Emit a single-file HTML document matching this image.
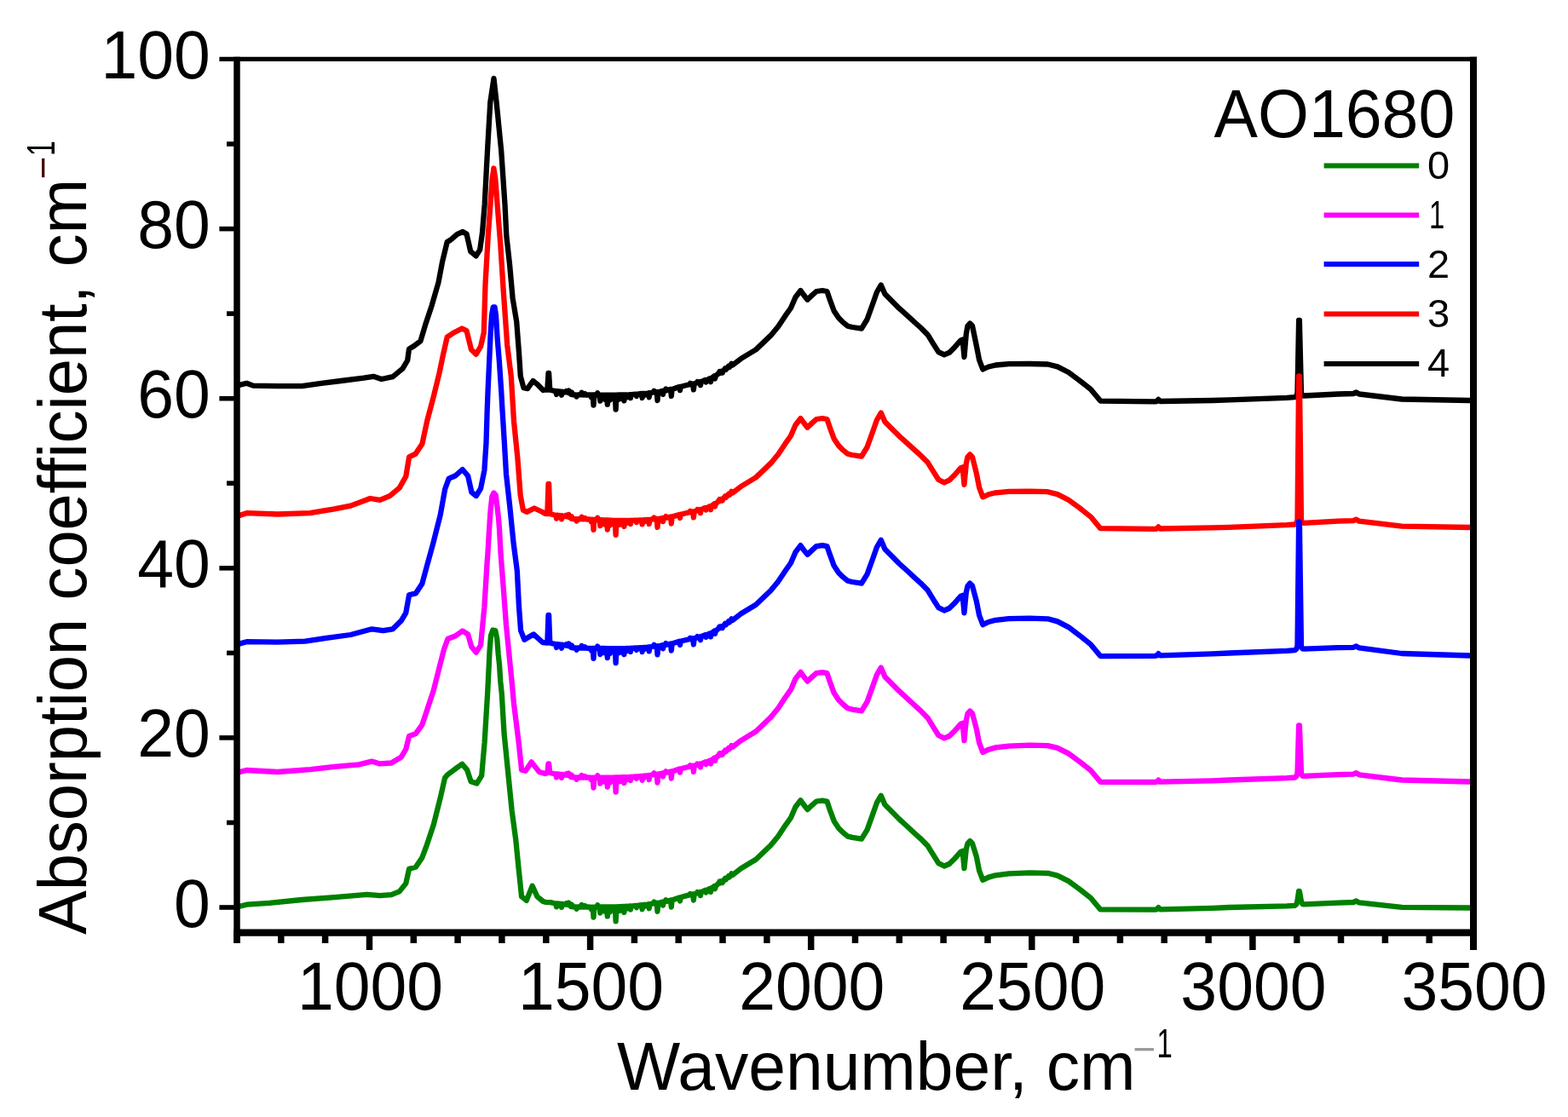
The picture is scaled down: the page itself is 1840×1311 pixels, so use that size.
<!DOCTYPE html>
<html><head><meta charset="utf-8"><title>Absorption spectra AO1680</title>
<style>html,body{margin:0;padding:0;background:#fff;}svg{display:block;}
text{font-family:"Liberation Sans",Arial,sans-serif;}</style></head>
<body>
<svg width="1840" height="1311" viewBox="0 0 1840 1311">
<rect width="1840" height="1311" fill="#fff"/>
<g fill="none" stroke-width="6.3" stroke-linejoin="round" stroke-linecap="butt">
<path d="M278.0 452.6L289.4 449.8L297.0 452.6L325.7 453.2L354.3 453.2L377.2 449.8L400.0 447.0L426.7 443.7L438.2 441.8L447.7 445.0L461.0 442.1L472.5 432.6L478.2 423.0L480.0 409.7L485.9 406.0L493.5 400.2L499.2 381.1L506.8 358.2L514.5 331.5L519.2 306.7L524.7 284.0L529.3 281.2L536.6 274.8L543.0 272.0L547.6 274.8L552.2 295.0L558.6 300.4L563.2 293.1L566.0 273.0L568.7 240.0L572.0 176.8L575.3 120.0L579.5 92.0L582.6 120.0L588.2 176.8L592.5 240.0L594.3 276.6L598.0 309.6L601.6 349.9L606.2 377.4L609.0 414.0L610.8 441.5L614.5 455.2L619.0 456.1L625.5 447.0L630.0 450.6L637.4 458.0L640.0 457.5L642.3 457.7L643.5 438.0L644.1 438.0L645.3 457.7L646.0 457.8L650.0 458.7L652.2 459.0L653.0 463.0L653.8 459.0L658.2 459.7L659.0 463.7L659.8 459.7L660.0 459.8L663.3 460.4L664.2 459.1L665.1 460.4L666.5 460.9L667.4 458.4L668.0 461.0L668.3 460.9L669.9 462.6L670.8 460.4L671.7 462.6L672.0 463.3L675.7 463.4L676.6 465.6L677.5 463.4L681.7 463.4L682.6 460.8L683.5 463.4L685.5 463.5L686.4 462.1L687.3 463.5L690.0 463.5L693.0 463.5L693.9 466.3L694.8 463.5L695.7 463.5L696.5 475.5L697.3 463.5L700.3 463.6L701.2 461.3L702.1 463.6L703.5 463.6L704.3 470.6L705.1 463.6L708.2 463.6L709.0 468.6L709.8 463.6L712.0 463.7L712.8 474.7L713.6 463.7L715.2 463.7L716.0 469.7L716.8 463.7L720.0 463.7L721.8 463.6L722.6 480.6L723.4 463.6L726.2 463.5L727.0 468.5L727.8 463.5L731.6 463.4L732.4 470.4L733.2 463.4L735.6 463.3L736.5 465.9L737.4 463.3L739.2 463.2L740.0 463.2L740.0 467.2L740.8 463.2L746.0 462.6L746.9 465.0L747.8 462.6L752.8 462.0L753.6 467.0L754.4 462.0L756.0 461.8L756.9 463.4L757.8 461.8L760.0 461.5L760.9 461.3L761.7 466.3L762.5 461.3L766.6 460.5L767.5 458.7L768.4 460.5L770.7 460.0L771.5 470.0L772.3 460.0L775.0 459.5L777.2 458.9L778.0 462.9L778.8 458.9L780.4 458.2L781.3 456.6L782.2 458.2L787.0 456.9L787.8 464.9L788.6 456.9L790.0 456.5L797.2 454.1L798.0 458.1L798.8 454.1L800.0 453.5L809.0 451.3L809.9 449.8L810.8 451.3L813.1 450.4L813.9 457.4L814.7 450.4L817.4 449.6L817.4 449.3L818.3 448.1L819.2 449.3L821.2 448.1L822.0 452.1L822.8 448.1L827.6 446.0L828.5 448.5L829.4 446.0L833.2 444.2L834.0 448.2L834.8 443.9L834.8 444.2L838.1 441.3L839.0 444.5L839.9 441.3L843.5 437.9L844.4 436.0L845.3 437.9L846.8 435.8L847.7 437.4L848.6 435.8L850.0 433.8L850.9 432.4L851.8 433.8L852.2 433.0L854.0 431.1L854.9 429.9L855.8 431.1L857.5 428.7L858.4 426.9L859.3 428.7L869.6 420.9L887.0 410.4L904.3 393.9L913.0 383.5L921.7 370.4L928.0 361.5L933.4 349.0L939.5 341.0L943.0 346.0L947.5 351.7L953.1 346.4L958.0 342.0L965.0 341.0L970.5 342.0L973.4 350.6L978.7 365.0L984.1 373.1L989.4 378.4L994.8 382.7L1000.0 384.0L1011.0 385.6L1017.5 375.0L1024.0 357.0L1028.9 343.0L1033.8 334.5L1038.4 345.1L1046.8 353.5L1055.2 361.9L1063.6 369.4L1071.9 377.0L1080.3 384.5L1088.7 392.9L1095.4 403.8L1101.3 413.1L1108.0 416.4L1113.9 413.9L1120.6 407.2L1127.3 399.6L1129.6 398.5L1131.5 419.0L1133.8 392.0L1135.5 382.5L1138.2 379.5L1141.0 382.5L1143.0 392.0L1145.8 405.5L1149.1 422.3L1153.3 433.5L1160.0 430.5L1168.4 428.5L1183.8 427.2L1208.3 427.0L1229.5 427.5L1240.9 430.4L1253.9 437.0L1267.0 446.7L1280.0 457.0L1291.3 470.6L1355.0 471.3L1357.5 471.0L1359.4 468.8L1361.5 471.0L1422.5 470.0L1442.5 469.4L1510.0 466.9L1519.5 466.2L1521.5 464.4L1522.5 460.4L1524.1 376.0L1524.9 376.0L1527.0 461.4L1528.5 464.4L1530.0 464.5L1570.0 462.5L1588.0 462.0L1591.5 460.5L1595.0 462.5L1645.0 468.5L1725.0 470.0L1729.0 470.0" stroke="#000000"/>
<path d="M278.0 606.0L289.4 602.2L325.7 603.5L363.8 602.2L392.4 597.4L411.5 593.6L434.4 585.0L445.8 586.9L457.3 582.1L468.7 572.6L476.3 559.3L480.1 536.4L487.8 532.6L495.4 521.1L501.1 494.4L508.7 465.8L515.5 438.0L520.1 415.8L524.7 395.7L533.0 390.2L542.1 385.5L547.6 388.4L553.0 410.3L558.6 415.8L564.1 406.7L567.8 390.2L569.6 331.6L572.8 276.6L575.5 240.0L577.6 210.0L579.4 197.5L581.3 210.0L583.6 240.0L587.2 285.8L590.7 340.7L595.2 404.8L599.8 441.5L603.0 494.3L607.4 537.8L610.7 581.3L613.9 598.7L618.3 600.9L627.0 596.5L636.7 601.0L640.0 602.9L642.3 603.2L643.5 568.0L644.1 568.0L645.3 603.2L646.0 603.3L650.0 604.3L652.2 604.6L653.0 608.6L653.8 604.6L658.2 605.3L659.0 609.3L659.8 605.3L660.0 605.5L663.3 606.1L664.2 604.8L665.1 606.1L666.5 606.7L667.4 604.1L668.0 606.8L668.3 606.7L669.9 608.4L670.8 606.2L671.7 608.4L672.0 609.1L675.7 609.2L676.6 611.5L677.5 609.2L681.7 609.3L682.6 606.8L683.5 609.3L685.5 609.4L686.4 608.0L687.3 609.4L690.0 609.5L693.0 609.7L693.9 612.4L694.8 609.7L695.7 609.8L696.5 621.8L697.3 609.8L700.3 610.0L701.2 607.7L702.1 610.0L703.5 610.1L704.3 617.1L705.1 610.1L708.2 610.3L709.0 615.3L709.8 610.3L712.0 610.5L712.8 621.5L713.6 610.5L715.2 610.6L716.0 616.6L716.8 610.6L720.0 610.8L721.8 610.8L722.6 627.8L723.4 610.8L726.2 610.9L727.0 615.9L727.8 610.9L731.6 610.9L732.4 617.9L733.2 610.9L735.6 611.0L736.5 613.6L737.4 611.0L739.2 611.0L740.0 611.0L740.0 615.0L740.8 611.0L746.0 610.7L746.9 613.1L747.8 610.7L752.8 610.4L753.6 615.4L754.4 610.4L756.0 610.2L756.9 611.8L757.8 610.2L760.0 610.0L760.9 609.9L761.7 614.9L762.5 609.9L766.6 609.3L767.5 607.5L768.4 609.3L770.7 608.9L771.5 618.9L772.3 608.9L775.0 608.6L777.2 608.1L778.0 612.1L778.8 608.1L780.4 607.6L781.3 606.0L782.2 607.6L787.0 606.5L787.8 614.5L788.6 606.5L790.0 606.1L797.2 604.0L798.0 608.0L798.8 604.0L800.0 603.5L809.0 601.3L809.9 599.8L810.8 601.3L813.1 600.4L813.9 607.4L814.7 600.4L817.4 599.6L817.4 599.3L818.3 598.1L819.2 599.3L821.2 598.1L822.0 602.1L822.8 598.1L827.6 596.0L828.5 598.5L829.4 596.0L833.2 594.2L834.0 598.2L834.8 593.9L834.8 594.2L838.1 591.3L839.0 594.5L839.9 591.3L843.5 587.9L844.4 586.0L845.3 587.9L846.8 585.8L847.7 587.4L848.6 585.8L850.0 583.8L850.9 582.4L851.8 583.8L852.2 583.0L854.0 581.1L854.9 579.9L855.8 581.1L857.5 578.7L858.4 576.9L859.3 578.7L869.6 570.9L887.0 560.4L904.3 543.9L913.0 533.5L921.7 520.4L928.0 511.5L933.4 499.0L939.5 491.0L943.0 496.0L947.5 501.7L953.1 496.4L958.0 492.0L965.0 491.0L970.5 492.0L973.4 500.6L978.7 515.0L984.1 523.1L989.4 528.4L994.8 532.7L1000.0 534.0L1011.0 535.6L1017.5 525.0L1024.0 507.0L1028.9 493.0L1033.8 484.5L1038.4 495.0L1046.8 503.4L1055.2 511.8L1063.6 519.3L1071.9 526.9L1080.3 534.4L1088.7 542.8L1095.4 553.7L1101.3 563.0L1108.0 566.3L1113.9 563.7L1120.6 557.0L1127.3 549.4L1129.6 548.3L1131.5 568.8L1133.8 544.2L1135.5 536.3L1138.2 533.3L1141.0 536.3L1143.0 544.2L1145.8 555.3L1149.1 572.1L1153.3 583.3L1160.0 580.3L1168.4 578.3L1183.8 576.9L1208.3 576.7L1229.5 577.2L1240.9 580.1L1253.9 586.7L1267.0 596.3L1280.0 606.6L1291.3 620.2L1355.0 620.8L1357.5 620.5L1359.4 618.3L1361.5 620.5L1422.5 619.4L1442.5 618.8L1510.0 616.2L1519.5 615.5L1521.5 613.7L1522.5 609.7L1524.1 441.5L1524.9 441.5L1527.0 610.7L1528.5 613.7L1530.0 613.8L1570.0 611.7L1588.0 611.2L1591.5 609.7L1595.0 611.7L1645.0 617.6L1725.0 619.0L1729.0 619.0" stroke="#ff0000"/>
<path d="M278.0 756.4L289.4 753.2L325.7 753.6L358.1 752.6L382.9 748.8L411.5 745.0L436.3 738.3L449.6 740.2L461.0 738.3L470.6 728.8L476.3 719.3L480.1 698.3L487.8 696.4L495.4 684.9L500.5 666.0L508.6 636.5L516.8 604.0L522.2 574.0L526.7 561.7L534.2 558.5L542.7 551.0L549.1 558.5L553.4 577.7L558.8 582.0L564.1 573.4L568.4 552.0L570.5 520.0L571.8 478.0L572.5 459.8L574.2 423.2L575.5 395.0L577.0 370.0L578.7 360.5L580.5 360.5L582.0 370.0L583.5 395.0L585.8 423.2L588.3 460.0L589.3 478.0L591.9 520.0L594.0 556.3L598.3 594.8L602.6 637.5L606.8 669.6L609.0 712.3L611.1 740.1L615.4 750.8L626.1 744.4L636.8 754.0L640.0 754.3L642.3 754.6L643.5 722.0L644.1 722.0L645.3 754.6L646.0 754.7L650.0 755.6L652.2 756.0L653.0 760.0L653.8 756.0L658.2 756.7L659.0 760.7L659.8 756.7L660.0 756.8L663.3 757.5L664.2 756.2L665.1 757.5L666.5 758.0L667.4 755.4L668.0 758.1L668.3 758.0L669.9 759.7L670.8 757.5L671.7 759.7L672.0 760.4L675.7 760.5L676.6 762.8L677.5 760.5L681.7 760.6L682.6 758.0L683.5 760.6L685.5 760.7L686.4 759.3L687.3 760.7L690.0 760.8L693.0 760.8L693.9 763.6L694.8 760.8L695.7 760.8L696.5 772.8L697.3 760.8L700.3 760.9L701.2 758.6L702.1 760.9L703.5 761.0L704.3 768.0L705.1 761.0L708.2 761.0L709.0 766.0L709.8 761.0L712.0 761.1L712.8 772.1L713.6 761.1L715.2 761.1L716.0 767.1L716.8 761.1L720.0 761.2L721.8 761.2L722.6 778.2L723.4 761.2L726.2 761.1L727.0 766.1L727.8 761.1L731.6 761.1L732.4 768.1L733.2 761.1L735.6 761.0L736.5 763.7L737.4 761.0L739.2 761.0L740.0 761.0L740.0 765.0L740.8 761.0L746.0 760.5L746.9 762.9L747.8 760.5L752.8 760.1L753.6 765.1L754.4 760.1L756.0 759.8L756.9 761.5L757.8 759.8L760.0 759.6L760.9 759.4L761.7 764.4L762.5 759.4L766.6 758.7L767.5 756.9L768.4 758.7L770.7 758.3L771.5 768.3L772.3 758.3L775.0 757.8L777.2 757.3L778.0 761.3L778.8 757.3L780.4 756.7L781.3 755.1L782.2 756.7L787.0 755.5L787.8 763.5L788.6 755.5L790.0 755.1L797.2 752.8L798.0 756.8L798.8 752.8L800.0 752.2L809.0 750.2L809.9 748.7L810.8 750.2L813.1 749.3L813.9 756.3L814.7 749.3L817.4 748.6L817.4 748.3L818.3 747.1L819.2 748.3L821.2 747.2L822.0 751.2L822.8 747.2L827.6 745.1L828.5 747.7L829.4 745.1L833.2 743.4L834.0 747.4L834.8 743.2L834.8 743.4L838.1 740.6L839.0 743.8L839.9 740.6L843.5 737.3L844.4 735.5L845.3 737.3L846.8 735.3L847.7 736.9L848.6 735.3L850.0 733.3L850.9 731.9L851.8 733.3L852.2 732.5L854.0 730.6L854.9 729.4L855.8 730.6L857.5 728.2L858.4 726.4L859.3 728.2L869.6 720.3L887.0 709.8L904.3 693.2L913.0 682.8L921.7 669.7L928.0 660.7L933.4 648.2L939.5 640.2L943.0 645.2L947.5 650.9L953.1 645.6L958.0 641.1L965.0 640.1L970.5 641.1L973.4 649.7L978.7 664.1L984.1 672.2L989.4 677.4L994.8 681.7L1000.0 683.0L1011.0 684.7L1017.5 674.2L1024.0 656.2L1028.9 642.3L1033.8 633.8L1038.4 644.5L1046.8 653.0L1055.2 661.5L1063.6 669.0L1071.9 676.7L1080.3 684.3L1088.7 692.8L1095.4 703.8L1101.3 713.1L1108.0 716.5L1113.9 714.0L1120.6 707.4L1127.3 699.9L1129.6 698.8L1131.5 719.3L1133.8 695.2L1135.5 687.7L1138.2 684.6L1141.0 687.5L1143.0 695.0L1145.8 705.4L1149.1 722.1L1153.3 733.2L1160.0 730.0L1168.4 727.8L1183.8 726.1L1208.3 725.6L1229.5 726.3L1240.9 729.4L1253.9 736.1L1267.0 745.9L1280.0 756.4L1291.3 770.1L1355.0 769.8L1357.5 769.4L1359.4 767.2L1361.5 769.4L1422.5 767.4L1442.5 766.5L1510.0 763.9L1519.5 763.2L1521.5 761.4L1522.5 757.4L1524.1 612.5L1524.9 612.5L1527.0 758.4L1528.5 761.4L1530.0 761.6L1570.0 760.1L1588.0 759.8L1591.5 758.4L1595.0 760.4L1645.0 767.0L1725.0 769.5L1729.0 769.5" stroke="#0000ff"/>
<path d="M278.0 906.9L289.4 904.0L325.7 906.0L363.8 903.1L392.4 899.8L421.0 897.4L436.3 893.6L445.8 896.4L459.2 895.5L470.6 888.8L476.3 879.3L480.1 864.0L487.8 861.1L495.4 850.6L501.1 833.5L508.7 810.6L516.4 780.1L521.0 762.0L525.6 749.7L534.2 746.5L542.7 740.5L549.1 744.4L553.4 759.3L558.8 765.7L564.1 757.2L568.4 712.3L571.6 660.0L572.3 651.6L574.1 621.0L575.5 600.0L577.3 583.0L579.5 578.5L581.7 581.0L583.5 595.0L585.0 608.0L586.0 621.0L587.7 651.6L590.8 690.9L594.0 733.7L597.2 765.7L600.4 797.8L603.0 825.8L608.7 871.5L612.1 903.6L616.7 904.7L623.6 894.4L632.7 905.9L639.6 908.1L642.3 907.0L643.5 896.5L644.1 896.5L645.3 907.0L646.0 907.1L650.0 908.0L652.2 908.3L653.0 912.3L653.8 908.3L658.2 908.9L659.0 912.9L659.8 908.9L660.0 909.0L663.3 909.6L664.2 908.3L665.1 909.6L666.5 910.1L667.4 907.6L668.0 910.2L668.3 910.1L669.9 911.8L670.8 909.6L671.7 911.8L672.0 912.4L675.7 912.5L676.6 914.8L677.5 912.5L681.7 912.5L682.6 909.9L683.5 912.5L685.5 912.5L686.4 911.1L687.3 912.5L690.0 912.5L693.0 912.6L693.9 915.3L694.8 912.6L695.7 912.6L696.5 924.6L697.3 912.6L700.3 912.6L701.2 910.3L702.1 912.6L703.5 912.6L704.3 919.6L705.1 912.6L708.2 912.6L709.0 917.6L709.8 912.6L712.0 912.6L712.8 923.6L713.6 912.6L715.2 912.6L716.0 918.6L716.8 912.6L720.0 912.6L721.8 912.5L722.6 929.5L723.4 912.5L726.2 912.4L727.0 917.4L727.8 912.4L731.6 912.2L732.4 919.2L733.2 912.2L735.6 912.1L736.5 914.8L737.4 912.1L739.2 912.0L740.0 912.0L740.0 916.0L740.8 912.0L746.0 911.4L746.9 913.8L747.8 911.4L752.8 910.8L753.6 915.8L754.4 910.8L756.0 910.5L756.9 912.1L757.8 910.5L760.0 910.2L760.9 910.0L761.7 915.0L762.5 910.0L766.6 909.2L767.5 907.3L768.4 909.2L770.7 908.6L771.5 918.6L772.3 908.6L775.0 908.1L777.2 907.5L778.0 911.5L778.8 907.5L780.4 906.8L781.3 905.2L782.2 906.8L787.0 905.5L787.8 913.5L788.6 905.5L790.0 905.0L797.2 902.6L798.0 906.6L798.8 902.6L800.0 902.0L809.0 899.7L809.9 898.2L810.8 899.7L813.1 898.8L813.9 905.8L814.7 898.8L817.4 898.0L817.4 897.7L818.3 896.5L819.2 897.7L821.2 896.5L822.0 900.5L822.8 896.5L827.6 894.3L828.5 896.9L829.4 894.3L833.2 892.5L834.0 896.5L834.8 892.2L834.8 892.5L838.1 889.6L839.0 892.8L839.9 889.6L843.5 886.2L844.4 884.3L845.3 886.2L846.8 884.1L847.7 885.7L848.6 884.1L850.0 882.1L850.9 880.6L851.8 882.1L852.2 881.2L854.0 879.3L854.9 878.1L855.8 879.3L857.5 876.9L858.4 875.1L859.3 876.9L869.6 869.1L887.0 858.5L904.3 841.9L913.0 831.4L921.7 818.3L928.0 809.4L933.4 796.8L939.5 788.8L943.0 793.8L947.5 799.6L953.1 794.4L958.0 790.0L965.0 789.1L970.5 790.2L973.4 798.8L978.7 813.3L984.1 821.5L989.4 826.8L994.8 831.2L1000.0 832.6L1011.0 834.3L1017.5 823.8L1024.0 805.9L1028.9 792.0L1033.8 783.5L1038.4 794.2L1046.8 802.7L1055.2 811.2L1063.6 818.8L1071.9 826.5L1080.3 834.1L1088.7 842.7L1095.4 853.6L1101.3 863.0L1108.0 866.4L1113.9 864.0L1120.6 857.4L1127.3 849.9L1129.6 848.8L1131.5 869.2L1133.8 845.2L1135.5 837.6L1138.2 834.5L1141.0 837.4L1143.0 844.8L1145.8 855.2L1149.1 871.9L1153.3 883.0L1160.0 879.7L1168.4 877.4L1183.8 875.6L1208.3 874.7L1229.5 875.1L1240.9 877.9L1253.9 884.4L1267.0 894.0L1280.0 904.2L1291.3 917.8L1355.0 918.0L1357.5 917.7L1359.4 915.5L1361.5 917.7L1422.5 916.3L1442.5 915.5L1510.0 913.2L1519.5 912.5L1521.5 910.8L1522.5 906.8L1524.1 851.5L1524.9 851.5L1527.0 907.8L1528.5 910.8L1530.0 910.9L1570.0 909.1L1588.0 908.7L1591.5 907.2L1595.0 909.3L1645.0 915.5L1725.0 917.5L1729.0 917.5" stroke="#ff00ff"/>
<path d="M278.0 1064.5L289.4 1061.7L316.1 1059.8L354.3 1056.0L392.4 1053.1L430.6 1049.8L445.8 1051.2L459.2 1050.2L468.7 1046.4L476.3 1036.9L480.1 1019.7L487.8 1017.8L495.4 1006.4L501.1 991.1L508.7 968.2L516.4 937.7L522.1 912.9L525.2 909.3L534.3 902.4L542.3 896.7L548.1 903.6L552.6 917.3L559.5 919.6L565.2 910.4L568.6 871.5L572.1 814.3L573.8 780.0L574.5 765.0L576.0 746.0L578.3 739.5L581.3 740.0L583.3 750.0L584.7 768.0L586.0 780.0L587.3 800.0L588.8 814.3L591.5 860.1L596.1 905.9L600.7 951.6L605.3 986.0L608.7 1020.3L612.1 1052.3L617.8 1056.9L624.7 1039.7L630.4 1052.3L637.3 1058.0L640.0 1058.8L646.0 1059.1L650.0 1060.0L652.2 1060.3L653.0 1064.3L653.8 1060.3L658.2 1060.9L659.0 1064.9L659.8 1060.9L660.0 1061.0L663.3 1061.6L664.2 1060.3L665.1 1061.6L666.5 1062.1L667.4 1059.6L668.0 1062.2L668.3 1062.1L669.9 1063.8L670.8 1061.6L671.7 1063.8L672.0 1064.4L675.7 1064.5L676.6 1066.8L677.5 1064.5L681.7 1064.5L682.6 1061.9L683.5 1064.5L685.5 1064.5L686.4 1063.1L687.3 1064.5L690.0 1064.5L693.0 1064.6L693.9 1067.3L694.8 1064.6L695.7 1064.6L696.5 1076.6L697.3 1064.6L700.3 1064.6L701.2 1062.3L702.1 1064.6L703.5 1064.5L704.3 1071.5L705.1 1064.5L708.2 1064.5L709.0 1069.5L709.8 1064.5L712.0 1064.4L712.8 1075.4L713.6 1064.4L715.2 1064.4L716.0 1070.4L716.8 1064.4L720.0 1064.4L721.8 1064.3L722.6 1081.3L723.4 1064.3L726.2 1064.1L727.0 1069.1L727.8 1064.1L731.6 1063.8L732.4 1070.8L733.2 1063.8L735.6 1063.7L736.5 1066.3L737.4 1063.7L739.2 1063.5L740.0 1063.5L740.0 1067.5L740.8 1063.5L746.0 1062.8L746.9 1065.2L747.8 1062.8L752.8 1062.2L753.6 1067.2L754.4 1062.2L756.0 1061.8L756.9 1063.4L757.8 1061.8L760.0 1061.5L760.9 1061.2L761.7 1066.2L762.5 1061.2L766.6 1060.4L767.5 1058.6L768.4 1060.4L770.7 1059.8L771.5 1069.8L772.3 1059.8L775.0 1059.2L777.2 1058.6L778.0 1062.6L778.8 1058.6L780.4 1057.9L781.3 1056.3L782.2 1057.9L787.0 1056.5L787.8 1064.5L788.6 1056.5L790.0 1056.0L797.2 1053.5L798.0 1057.5L798.8 1053.5L800.0 1052.8L809.0 1050.4L809.9 1049.0L810.8 1050.4L813.1 1049.5L813.9 1056.5L814.7 1049.5L817.4 1048.6L817.4 1048.3L818.3 1047.1L819.2 1048.3L821.2 1047.1L822.0 1051.1L822.8 1047.1L827.6 1044.8L828.5 1047.4L829.4 1044.8L833.2 1042.9L834.0 1046.9L834.8 1042.7L834.8 1042.9L838.1 1040.0L839.0 1043.2L839.9 1040.0L843.5 1036.5L844.4 1034.6L845.3 1036.5L846.8 1034.4L847.7 1036.0L848.6 1034.4L850.0 1032.3L850.9 1030.9L851.8 1032.3L852.2 1031.5L854.0 1029.6L854.9 1028.4L855.8 1029.6L857.5 1027.2L858.4 1025.4L859.3 1027.2L869.6 1019.3L887.0 1008.8L904.3 992.2L913.0 981.8L921.7 968.6L928.0 959.7L933.4 947.2L939.5 939.3L943.0 944.3L947.5 950.1L953.1 944.8L958.0 940.5L965.0 939.6L970.5 940.6L973.4 949.3L978.7 963.7L984.1 971.9L989.4 977.2L994.8 981.6L1000.0 982.9L1011.0 984.7L1017.5 974.1L1024.0 956.2L1028.9 942.2L1033.8 933.8L1038.4 944.4L1046.8 952.9L1055.2 961.4L1063.6 969.0L1071.9 976.7L1080.3 984.3L1088.7 992.8L1095.4 1003.7L1101.3 1013.1L1108.0 1016.5L1113.9 1014.0L1120.6 1007.4L1127.3 999.9L1129.6 998.8L1131.5 1019.2L1133.8 996.6L1135.5 990.1L1138.2 987.0L1141.0 989.9L1143.0 996.3L1145.8 1005.2L1149.1 1021.8L1153.3 1032.9L1160.0 1029.6L1168.4 1027.3L1183.8 1025.3L1208.3 1024.4L1229.5 1024.8L1240.9 1027.6L1253.9 1034.1L1267.0 1043.7L1280.0 1053.9L1291.3 1067.4L1355.0 1067.6L1357.5 1067.3L1359.4 1065.1L1361.5 1067.3L1422.5 1065.8L1442.5 1065.0L1510.0 1063.3L1519.5 1062.8L1521.5 1061.1L1522.5 1057.1L1524.1 1046.0L1524.9 1046.0L1527.0 1058.1L1528.5 1061.1L1530.0 1061.3L1570.0 1059.7L1588.0 1059.0L1591.5 1057.5L1595.0 1059.4L1645.0 1064.9L1725.0 1065.5L1729.0 1065.5" stroke="#008000"/>
</g>
<g stroke="#000" stroke-linecap="butt">
<line x1="278.0" y1="66.7" x2="278.0" y2="1107.0" stroke-width="7.5"/>
<line x1="257.4" y1="69.4" x2="1733.0" y2="69.4" stroke-width="5.4"/>
<line x1="1729.0" y1="66.7" x2="1729.0" y2="1115" stroke-width="8.0"/>
<line x1="274.3" y1="1094.6" x2="1733.0" y2="1094.6" stroke-width="8.3"/>
<line x1="257.4" y1="1065.0" x2="278.0" y2="1065.0" stroke-width="5.6"/>
<line x1="266.0" y1="965.5" x2="278.0" y2="965.5" stroke-width="5.6"/>
<line x1="257.4" y1="865.9" x2="278.0" y2="865.9" stroke-width="5.6"/>
<line x1="266.0" y1="766.4" x2="278.0" y2="766.4" stroke-width="5.6"/>
<line x1="257.4" y1="666.8" x2="278.0" y2="666.8" stroke-width="5.6"/>
<line x1="266.0" y1="567.2" x2="278.0" y2="567.2" stroke-width="5.6"/>
<line x1="257.4" y1="467.7" x2="278.0" y2="467.7" stroke-width="5.6"/>
<line x1="266.0" y1="368.1" x2="278.0" y2="368.1" stroke-width="5.6"/>
<line x1="257.4" y1="268.6" x2="278.0" y2="268.6" stroke-width="5.6"/>
<line x1="266.0" y1="169.0" x2="278.0" y2="169.0" stroke-width="5.6"/>
<line x1="278.0" y1="1094" x2="278.0" y2="1107.0" stroke-width="7.5"/>
<line x1="329.8" y1="1094" x2="329.8" y2="1107.0" stroke-width="7.5"/>
<line x1="381.6" y1="1094" x2="381.6" y2="1107.0" stroke-width="7.5"/>
<line x1="433.5" y1="1094" x2="433.5" y2="1115.0" stroke-width="7.5"/>
<line x1="485.3" y1="1094" x2="485.3" y2="1107.0" stroke-width="7.5"/>
<line x1="537.1" y1="1094" x2="537.1" y2="1107.0" stroke-width="7.5"/>
<line x1="588.9" y1="1094" x2="588.9" y2="1107.0" stroke-width="7.5"/>
<line x1="640.8" y1="1094" x2="640.8" y2="1107.0" stroke-width="7.5"/>
<line x1="692.6" y1="1094" x2="692.6" y2="1115.0" stroke-width="7.5"/>
<line x1="744.4" y1="1094" x2="744.4" y2="1107.0" stroke-width="7.5"/>
<line x1="796.2" y1="1094" x2="796.2" y2="1107.0" stroke-width="7.5"/>
<line x1="848.0" y1="1094" x2="848.0" y2="1107.0" stroke-width="7.5"/>
<line x1="899.9" y1="1094" x2="899.9" y2="1107.0" stroke-width="7.5"/>
<line x1="951.7" y1="1094" x2="951.7" y2="1115.0" stroke-width="7.5"/>
<line x1="1003.5" y1="1094" x2="1003.5" y2="1107.0" stroke-width="7.5"/>
<line x1="1055.3" y1="1094" x2="1055.3" y2="1107.0" stroke-width="7.5"/>
<line x1="1107.1" y1="1094" x2="1107.1" y2="1107.0" stroke-width="7.5"/>
<line x1="1159.0" y1="1094" x2="1159.0" y2="1107.0" stroke-width="7.5"/>
<line x1="1210.8" y1="1094" x2="1210.8" y2="1115.0" stroke-width="7.5"/>
<line x1="1262.6" y1="1094" x2="1262.6" y2="1107.0" stroke-width="7.5"/>
<line x1="1314.4" y1="1094" x2="1314.4" y2="1107.0" stroke-width="7.5"/>
<line x1="1366.2" y1="1094" x2="1366.2" y2="1107.0" stroke-width="7.5"/>
<line x1="1418.1" y1="1094" x2="1418.1" y2="1107.0" stroke-width="7.5"/>
<line x1="1469.9" y1="1094" x2="1469.9" y2="1115.0" stroke-width="7.5"/>
<line x1="1521.7" y1="1094" x2="1521.7" y2="1107.0" stroke-width="7.5"/>
<line x1="1573.5" y1="1094" x2="1573.5" y2="1107.0" stroke-width="7.5"/>
<line x1="1625.4" y1="1094" x2="1625.4" y2="1107.0" stroke-width="7.5"/>
<line x1="1677.2" y1="1094" x2="1677.2" y2="1107.0" stroke-width="7.5"/>
</g>
<g>
<text transform="translate(246.8,1087.5) scale(0.975,1)" font-size="78.9" text-anchor="end">0</text>
<text transform="translate(246.8,888.4) scale(0.975,1)" font-size="78.9" text-anchor="end">20</text>
<text transform="translate(246.8,689.3) scale(0.975,1)" font-size="78.9" text-anchor="end">40</text>
<text transform="translate(246.8,490.2) scale(0.975,1)" font-size="78.9" text-anchor="end">60</text>
<text transform="translate(246.8,291.1) scale(0.975,1)" font-size="78.9" text-anchor="end">80</text>
<text transform="translate(246.8,92.0) scale(0.975,1)" font-size="78.9" text-anchor="end">100</text>
<text transform="translate(434.5,1185.2) scale(0.965,1)" font-size="79.7" text-anchor="middle">1000</text>
<text transform="translate(693.6,1185.2) scale(0.965,1)" font-size="79.7" text-anchor="middle">1500</text>
<text transform="translate(952.7,1185.2) scale(0.965,1)" font-size="79.7" text-anchor="middle">2000</text>
<text transform="translate(1211.8,1185.2) scale(0.965,1)" font-size="79.7" text-anchor="middle">2500</text>
<text transform="translate(1470.9,1185.2) scale(0.965,1)" font-size="79.7" text-anchor="middle">3000</text>
<text transform="translate(1730.0,1185.2) scale(0.965,1)" font-size="79.7" text-anchor="middle">3500</text>
</g>
<text transform="translate(1424.6,160.9) scale(0.973,1)" font-size="79.2">AO1680</text>
<g stroke-width="6">
<line x1="1553.6" y1="194.5" x2="1665.2" y2="194.5" stroke="#008000"/>
<line x1="1553.6" y1="252.5" x2="1665.2" y2="252.5" stroke="#ff00ff"/>
<line x1="1553.6" y1="309.9" x2="1665.2" y2="309.9" stroke="#0000ff"/>
<line x1="1553.6" y1="368.4" x2="1665.2" y2="368.4" stroke="#ff0000"/>
<line x1="1553.6" y1="427" x2="1665.2" y2="427" stroke="#000000"/>
</g>
<g font-size="47">
<text x="1675" y="209.9">0</text>
<text transform="translate(1677,268) scale(0.7,1)">1</text>
<text x="1675" y="326.1">2</text>
<text x="1675" y="384.2">3</text>
<text x="1675" y="442.3">4</text>
</g>
<text transform="translate(723.9,1279) scale(0.984,1)" font-size="79.9">Wavenumber, cm</text>
<text x="1329.6" y="1246.7" font-size="46" fill="#999">&#8722;</text>
<text transform="translate(1357.4,1241.4) scale(0.68,1)" font-size="48.4">1</text>
<g transform="translate(101.3,1097) rotate(-90)">
<text transform="scale(0.98,1)" font-size="79.2">Absorption coefficient, cm</text>
<text x="886.7" y="-35.4" font-size="46" fill="#400">&#8722;</text>
<text transform="translate(914,-37.3) scale(0.68,1)" font-size="47.1">1</text>
</g>
</svg>
</body></html>
